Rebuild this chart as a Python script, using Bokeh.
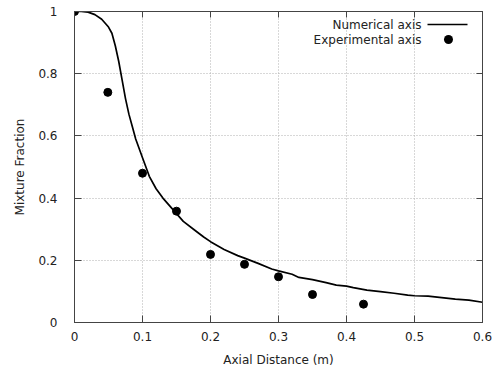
from bokeh.plotting import figure
from bokeh.models import LinearAxis, FixedTicker, Range1d, Label, BoxAnnotation
from bokeh.embed import file_html
from bokeh.resources import INLINE

# Numerical axis (simulation curve)
num_x = [0.0, 0.01, 0.02, 0.03, 0.04, 0.05, 0.055, 0.06, 0.065, 0.07, 0.075, 0.08,
         0.085, 0.09, 0.1, 0.11, 0.12, 0.13, 0.14, 0.15, 0.16, 0.175, 0.19, 0.2,
         0.22, 0.24, 0.25, 0.27, 0.29, 0.3, 0.32, 0.33, 0.35, 0.37, 0.385, 0.4,
         0.41, 0.43, 0.45, 0.47, 0.49, 0.5, 0.52, 0.54, 0.56, 0.58, 0.6]
num_y = [1.0, 1.0, 0.998, 0.99, 0.975, 0.95, 0.93, 0.89, 0.84, 0.78, 0.72, 0.67,
         0.63, 0.59, 0.53, 0.47, 0.43, 0.40, 0.375, 0.35, 0.325, 0.30, 0.275, 0.26,
         0.235, 0.215, 0.207, 0.19, 0.172, 0.166, 0.155, 0.145, 0.138, 0.128, 0.12, 0.117,
         0.112, 0.104, 0.099, 0.094, 0.088, 0.086, 0.085, 0.08, 0.075, 0.072, 0.065]

# Experimental axis (measurements)
exp_x = [0.0, 0.049, 0.1, 0.15, 0.2, 0.25, 0.3, 0.35, 0.425]
exp_y = [1.0, 0.74, 0.48, 0.358, 0.219, 0.187, 0.147, 0.09, 0.059]

x_ticks = [0.0, 0.1, 0.2, 0.3, 0.4, 0.5, 0.6]
x_tick_labels = ["0", "0.1", "0.2", "0.3", "0.4", "0.5", "0.6"]
y_ticks = [0.0, 0.2, 0.4, 0.6, 0.8, 1.0]
y_tick_labels = ["0", "0.2", "0.4", "0.6", "0.8", "1"]
legend_labels = ["Numerical axis", "Experimental axis"]

FONT = "DejaVu Sans"
TXT = "#222222"
AX = "#444444"

p = figure(width=498, height=374, output_backend="svg", toolbar_location=None,
           x_range=Range1d(0, 0.6), y_range=Range1d(0, 1),
           min_border_left=74, min_border_right=16, min_border_top=11, min_border_bottom=52)
p.outline_line_color = AX
p.background_fill_color = "white"

p.xaxis.ticker = FixedTicker(ticks=x_ticks)
p.yaxis.ticker = FixedTicker(ticks=y_ticks)
p.xaxis.major_label_overrides = {t: s for t, s in zip(x_ticks, x_tick_labels)}
p.yaxis.major_label_overrides = {t: s for t, s in zip(y_ticks, y_tick_labels)}
p.xaxis.axis_label = "Axial Distance (m)"
p.yaxis.axis_label = "Mixture Fraction"

for ax in (p.xaxis[0], p.yaxis[0]):
    ax.major_tick_in = 7
    ax.major_tick_out = 0
    ax.minor_tick_in = 0
    ax.minor_tick_out = 0
    ax.axis_line_color = AX
    ax.major_tick_line_color = AX
    ax.major_label_text_font = FONT
    ax.major_label_text_font_size = "12px"
    ax.major_label_text_color = TXT
    ax.axis_label_text_font = FONT
    ax.axis_label_text_font_size = "12px"
    ax.axis_label_text_font_style = "normal"
    ax.axis_label_text_color = TXT
p.xaxis.major_label_standoff = 9
p.xaxis.axis_label_standoff = 9
p.yaxis.major_label_standoff = 17
p.yaxis.axis_label_standoff = 8

# mirrored ticks (no labels)
top = LinearAxis(ticker=FixedTicker(ticks=x_ticks))
right = LinearAxis(ticker=FixedTicker(ticks=y_ticks))
for ax in (top, right):
    ax.major_tick_in = 6
    ax.major_tick_out = 0
    ax.minor_tick_in = 0
    ax.minor_tick_out = 0
    ax.axis_line_color = AX
    ax.major_tick_line_color = AX
    ax.major_label_text_font_size = "1px"
    ax.major_label_text_color = None
    ax.major_label_text_alpha = 0
    ax.major_label_standoff = 0
p.add_layout(top, "above")
p.add_layout(right, "right")

p.grid.grid_line_color = "#b0b0b0"
p.grid.grid_line_dash = "1 2"
p.grid.grid_line_width = 1

p.line(num_x, num_y, line_color="black", line_width=1.7)
p.scatter(exp_x, exp_y, marker="circle", size=8, fill_color="black", line_color="black")

# gnuplot-style key (screen units relative to the plot frame): text right-aligned, sample right
key_text_right = 347
key_rows = [298, 283]
for txt, yy in zip(legend_labels, key_rows):
    p.add_layout(Label(x=key_text_right, y=yy, x_units="screen", y_units="screen", text=txt,
                       text_align="right", text_baseline="middle",
                       text_font=FONT, text_font_size="12px", text_color=TXT))

# line sample
p.add_layout(BoxAnnotation(left=353, right=393, bottom=key_rows[0] - 0.85, top=key_rows[0] + 0.85,
                           left_units="screen", right_units="screen",
                           bottom_units="screen", top_units="screen",
                           fill_color="black", fill_alpha=1, line_color=None))
# dot sample
p.add_layout(BoxAnnotation(left=369.5, right=378.5, bottom=key_rows[1] - 4.5, top=key_rows[1] + 4.5,
                           left_units="screen", right_units="screen",
                           bottom_units="screen", top_units="screen",
                           border_radius=5,
                           fill_color="black", fill_alpha=1, line_color=None))

open("out.html", "w").write(file_html(p, INLINE))
